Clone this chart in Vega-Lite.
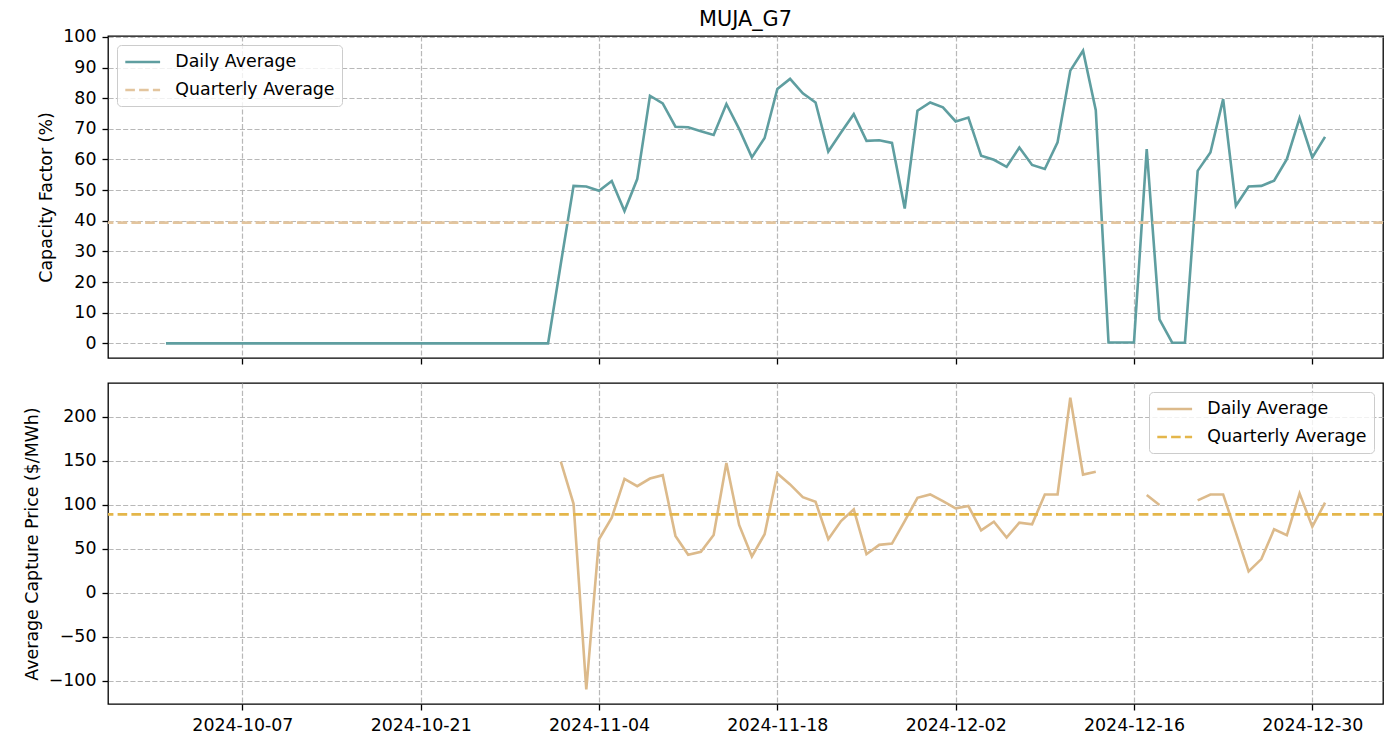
{
  "$schema": "https://vega.github.io/schema/vega-lite/v6.json",
  "padding": {"left": 22, "top": 8, "right": 6, "bottom": 4},
  "background": "white",
  "bounds": "flush",
  "spacing": 25,
  "datasets": {
    "d": [
      {"date": "2024-10-01", "cf": 0, "price": null},
      {"date": "2024-10-02", "cf": 0, "price": null},
      {"date": "2024-10-03", "cf": 0, "price": null},
      {"date": "2024-10-04", "cf": 0, "price": null},
      {"date": "2024-10-05", "cf": 0, "price": null},
      {"date": "2024-10-06", "cf": 0, "price": null},
      {"date": "2024-10-07", "cf": 0, "price": null},
      {"date": "2024-10-08", "cf": 0, "price": null},
      {"date": "2024-10-09", "cf": 0, "price": null},
      {"date": "2024-10-10", "cf": 0, "price": null},
      {"date": "2024-10-11", "cf": 0, "price": null},
      {"date": "2024-10-12", "cf": 0, "price": null},
      {"date": "2024-10-13", "cf": 0, "price": null},
      {"date": "2024-10-14", "cf": 0, "price": null},
      {"date": "2024-10-15", "cf": 0, "price": null},
      {"date": "2024-10-16", "cf": 0, "price": null},
      {"date": "2024-10-17", "cf": 0, "price": null},
      {"date": "2024-10-18", "cf": 0, "price": null},
      {"date": "2024-10-19", "cf": 0, "price": null},
      {"date": "2024-10-20", "cf": 0, "price": null},
      {"date": "2024-10-21", "cf": 0, "price": null},
      {"date": "2024-10-22", "cf": 0, "price": null},
      {"date": "2024-10-23", "cf": 0, "price": null},
      {"date": "2024-10-24", "cf": 0, "price": null},
      {"date": "2024-10-25", "cf": 0, "price": null},
      {"date": "2024-10-26", "cf": 0, "price": null},
      {"date": "2024-10-27", "cf": 0, "price": null},
      {"date": "2024-10-28", "cf": 0, "price": null},
      {"date": "2024-10-29", "cf": 0, "price": null},
      {"date": "2024-10-30", "cf": 0, "price": null},
      {"date": "2024-10-31", "cf": 0, "price": null},
      {"date": "2024-11-01", "cf": 26, "price": 149},
      {"date": "2024-11-02", "cf": 51.4, "price": 101},
      {"date": "2024-11-03", "cf": 51.2, "price": -110},
      {"date": "2024-11-04", "cf": 49.8, "price": 60.7},
      {"date": "2024-11-05", "cf": 53.0, "price": 85.2},
      {"date": "2024-11-06", "cf": 43.2, "price": 129.3},
      {"date": "2024-11-07", "cf": 53.6, "price": 121},
      {"date": "2024-11-08", "cf": 80.8, "price": 129.7},
      {"date": "2024-11-09", "cf": 78.3, "price": 133.5},
      {"date": "2024-11-10", "cf": 70.7, "price": 64.5},
      {"date": "2024-11-11", "cf": 70.5, "price": 43},
      {"date": "2024-11-12", "cf": 69.2, "price": 46.4},
      {"date": "2024-11-13", "cf": 68.0, "price": 65.6},
      {"date": "2024-11-14", "cf": 78.1, "price": 147.4},
      {"date": "2024-11-15", "cf": 70.0, "price": 77},
      {"date": "2024-11-16", "cf": 60.7, "price": 41.1},
      {"date": "2024-11-17", "cf": 67.0, "price": 66.4},
      {"date": "2024-11-18", "cf": 83.0, "price": 135.4},
      {"date": "2024-11-19", "cf": 86.3, "price": 123},
      {"date": "2024-11-20", "cf": 81.6, "price": 108.6},
      {"date": "2024-11-21", "cf": 78.6, "price": 103.3},
      {"date": "2024-11-22", "cf": 62.6, "price": 60.7},
      {"date": "2024-11-23", "cf": 68.8, "price": 81.4},
      {"date": "2024-11-24", "cf": 74.8, "price": 94.6},
      {"date": "2024-11-25", "cf": 66.1, "price": 43.7},
      {"date": "2024-11-26", "cf": 66.3, "price": 54.3},
      {"date": "2024-11-27", "cf": 65.4, "price": 55.8},
      {"date": "2024-11-28", "cf": 44.0, "price": 81.4},
      {"date": "2024-11-29", "cf": 75.9, "price": 107.8},
      {"date": "2024-11-30", "cf": 78.6, "price": 111.6},
      {"date": "2024-12-01", "cf": 77.0, "price": 104},
      {"date": "2024-12-02", "cf": 72.4, "price": 95.8},
      {"date": "2024-12-03", "cf": 73.7, "price": 98.4},
      {"date": "2024-12-04", "cf": 61.2, "price": 70.9},
      {"date": "2024-12-05", "cf": 59.9, "price": 80.7},
      {"date": "2024-12-06", "cf": 57.6, "price": 62.6},
      {"date": "2024-12-07", "cf": 63.9, "price": 79.6},
      {"date": "2024-12-08", "cf": 58.2, "price": 77.7},
      {"date": "2024-12-09", "cf": 56.9, "price": 111.6},
      {"date": "2024-12-10", "cf": 65.6, "price": 111.6},
      {"date": "2024-12-11", "cf": 89.0, "price": 221.7},
      {"date": "2024-12-12", "cf": 95.5, "price": 134.2},
      {"date": "2024-12-13", "cf": 76.1, "price": 137.3},
      {"date": "2024-12-14", "cf": 0.3, "price": null},
      {"date": "2024-12-15", "cf": 0.3, "price": null},
      {"date": "2024-12-16", "cf": 0.3, "price": null},
      {"date": "2024-12-17", "cf": 63.4, "price": 110.9},
      {"date": "2024-12-18", "cf": 7.8, "price": 99.5},
      {"date": "2024-12-19", "cf": 0.2, "price": null},
      {"date": "2024-12-20", "cf": 0.2, "price": null},
      {"date": "2024-12-21", "cf": 56.3, "price": 104.8},
      {"date": "2024-12-22", "cf": 62.3, "price": 111.6},
      {"date": "2024-12-23", "cf": 79.7, "price": 111.6},
      {"date": "2024-12-24", "cf": 44.9, "price": 68.3},
      {"date": "2024-12-25", "cf": 51.2, "price": 24.1},
      {"date": "2024-12-26", "cf": 51.4, "price": 38.1},
      {"date": "2024-12-27", "cf": 53.1, "price": 72},
      {"date": "2024-12-28", "cf": 60.1, "price": 65.2},
      {"date": "2024-12-29", "cf": 73.5, "price": 112.7},
      {"date": "2024-12-30", "cf": 60.7, "price": 75},
      {"date": "2024-12-31", "cf": 67.4, "price": 102.2}
    ],
    "qa": [
      {"series": "Quarterly Average", "cf": 39.4, "price": 89}
    ]
  },
  "vconcat": [
    {
      "width": 1275,
      "height": 322,
      "title": {"text": "MUJA_G7", "frame": "group", "anchor": "middle", "fontSize": 20.8, "fontWeight": "normal", "font": "DejaVu Sans", "color": "black", "offset": -19, "baseline": "alphabetic"},
      "encoding": {
        "y": {
          "field": "cf", "type": "quantitative",
          "scale": {"domain": [-4.78, 100.3], "nice": false, "zero": false},
          "axis": {"title": "Capacity Factor (%)", "values": [0, 10, 20, 30, 40, 50, 60, 70, 80, 90, 100], "tickCount": 11, "format": "d", "labelOverlap": false}
        }
      },
      "layer": [
        {
          "data": {"name": "d"},
          "mark": {"type": "line", "strokeWidth": 2.6, "invalid": "break-paths-show-domains"},
          "encoding": {
            "x": {
              "field": "date", "type": "temporal",
              "scale": {"type": "utc", "domain": [{"year": 2024, "month": 9, "date": 26, "hours": 10, "minutes": 48, "utc": true}, {"year": 2025, "month": 1, "date": 4, "hours": 13, "minutes": 12, "utc": true}]},
              "axis": {"title": null, "labels": false, "values": [
                {"year": 2024, "month": 10, "date": 7, "utc": true},
                {"year": 2024, "month": 10, "date": 21, "utc": true},
                {"year": 2024, "month": 11, "date": 4, "utc": true},
                {"year": 2024, "month": 11, "date": 18, "utc": true},
                {"year": 2024, "month": 12, "date": 2, "utc": true},
                {"year": 2024, "month": 12, "date": 16, "utc": true},
                {"year": 2024, "month": 12, "date": 30, "utc": true}
              ]}
            },
            "color": {
              "datum": "Daily Average", "type": "nominal",
              "scale": {"domain": ["Daily Average", "Quarterly Average"], "range": ["#5f9ea0", "#e3c59e"]},
              "legend": {"orient": "top-left", "encode": {"symbols": {"update": {"strokeDash": {"signal": "datum.label === 'Quarterly Average' ? [9.6, 4.2] : [1, 0]"}}}}}
            }
          }
        },
        {
          "data": {"name": "qa"},
          "mark": {"type": "rule", "strokeWidth": 2.6, "strokeDash": [9.6, 4.2]},
          "encoding": {
            "color": {"datum": "Quarterly Average", "type": "nominal"}
          }
        }
      ]
    },
    {
      "width": 1275,
      "height": 321,
      "encoding": {
        "y": {
          "field": "price", "type": "quantitative",
          "scale": {"domain": [-126.6, 238.3], "nice": false, "zero": false},
          "axis": {"title": "Average Capture Price ($/MWh)", "values": [-100, -50, 0, 50, 100, 150, 200], "format": "d", "labelOverlap": false, "labelExpr": "replace(datum.label, '-', '−')"}
        }
      },
      "layer": [
        {
          "data": {"name": "d"},
          "mark": {"type": "line", "strokeWidth": 2.6, "invalid": "break-paths-show-domains"},
          "encoding": {
            "x": {
              "field": "date", "type": "temporal",
              "scale": {"type": "utc", "domain": [{"year": 2024, "month": 9, "date": 26, "hours": 10, "minutes": 48, "utc": true}, {"year": 2025, "month": 1, "date": 4, "hours": 13, "minutes": 12, "utc": true}]},
              "axis": {"title": null, "format": "%Y-%m-%d", "labelOverlap": false, "labelFlush": false, "values": [
                {"year": 2024, "month": 10, "date": 7, "utc": true},
                {"year": 2024, "month": 10, "date": 21, "utc": true},
                {"year": 2024, "month": 11, "date": 4, "utc": true},
                {"year": 2024, "month": 11, "date": 18, "utc": true},
                {"year": 2024, "month": 12, "date": 2, "utc": true},
                {"year": 2024, "month": 12, "date": 16, "utc": true},
                {"year": 2024, "month": 12, "date": 30, "utc": true}
              ]}
            },
            "color": {
              "datum": "Daily Average", "type": "nominal",
              "scale": {"domain": ["Daily Average", "Quarterly Average"], "range": ["#dcba8b", "#e4b64a"]},
              "legend": {"orient": "top-right", "encode": {"symbols": {"update": {"strokeDash": {"signal": "datum.label === 'Quarterly Average' ? [9.6, 4.2] : [1, 0]"}}}}}
            }
          }
        },
        {
          "data": {"name": "qa"},
          "mark": {"type": "rule", "strokeWidth": 2.6, "strokeDash": [9.6, 4.2]},
          "encoding": {
            "color": {"datum": "Quarterly Average", "type": "nominal"}
          }
        }
      ]
    }
  ],
  "resolve": {"scale": {"color": "independent", "y": "independent"}, "legend": {"color": "independent"}},
  "config": {
    "font": "DejaVu Sans",
    "view": {"stroke": "black", "strokeWidth": 1.3},
    "axis": {
      "domain": false,
      "tickColor": "black", "tickSize": 6, "tickWidth": 1.3,
      "labelFont": "DejaVu Sans", "labelFontSize": 17.4, "labelColor": "black", "labelPadding": 6,
      "titleFont": "DejaVu Sans", "titleFontSize": 17.4, "titleFontWeight": "normal", "titleColor": "black", "titlePadding": 7,
      "grid": true, "gridColor": "#b0b0b0", "gridDash": [5.1, 2.2], "gridWidth": 1.2, "gridOpacity": 0.9
    },
    "legend": {
      "title": null,
      "offset": 9,
      "padding": 7,
      "fillColor": "rgba(255,255,255,0.8)",
      "strokeColor": "#cccccc",
      "cornerRadius": 4,
      "labelFont": "DejaVu Sans", "labelFontSize": 17.4, "labelColor": "black",
      "symbolType": "M-1,0H3",
      "symbolSize": 302.76,
      "symbolStrokeWidth": 2.6,
      "labelOffset": 31.3,
      "rowPadding": 9
    }
  }
}
